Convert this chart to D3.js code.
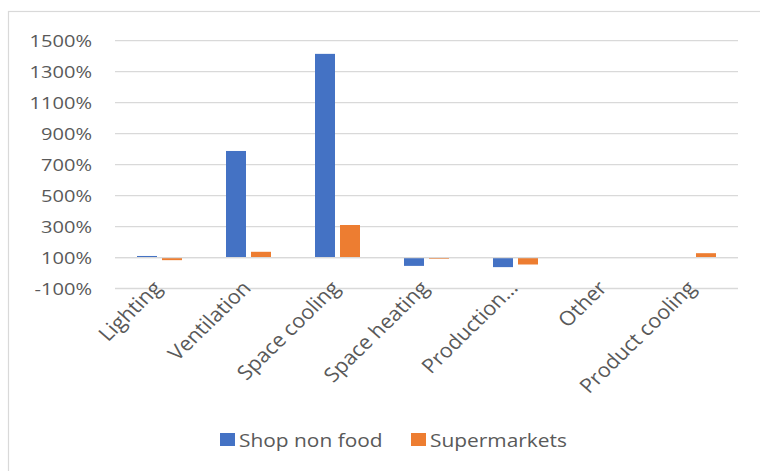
<!DOCTYPE html>
<html>
<head>
<meta charset="utf-8">
<script src="https://cdn.jsdelivr.net/npm/d3@7"></script>
<style>
  html, body { margin: 0; padding: 0; background: #ffffff; }
  svg { display: block; }
  text { font-family: "Open Sans", "Noto Sans", sans-serif; fill: #595959; }
</style>
</head>
<body>
<svg id="chart" width="760" height="471"></svg>
<script>
// Relative change in energy use by end use
const categories = ["Lighting", "Ventilation", "Space cooling", "Space heating", "Production…", "Other", "Product cooling"];
const seriesNames = ["Shop non food", "Supermarkets"];
const shopNonFood = [110, 788, 1415, 46, 38, null, null];
const supermarkets = [83, 137, 310, 92, 55, null, 128];
const yTicks = [-100, 100, 300, 500, 700, 900, 1100, 1300, 1500];
const colors = ["#4472C4", "#ED7D31"];

const stretch = 1.18;           // text is drawn slightly wide
const svg = d3.select("#chart");

// chart frame
svg.append("rect")
  .attr("x", 8.5).attr("y", 11.5)
  .attr("width", 800).attr("height", 500)
  .attr("fill", "#ffffff")
  .attr("stroke", "#d9d9d9").attr("stroke-width", 1.2);

const plot = { left: 115, right: 738 };
const y = d3.scaleLinear().domain([-100, 1500]).range([288.5, 40.7]);
const x = d3.scaleBand().domain(categories).range([plot.left, plot.right]).padding(0);
const xs = d3.scaleBand().domain(seriesNames).range([-22.5, 22.5]).paddingInner(0.2);
const base = 100;   // horizontal axis crosses at 100%

// gridlines
svg.append("g").selectAll("line").data(yTicks).join("line")
  .attr("x1", plot.left).attr("x2", plot.right)
  .attr("y1", d => y(d)).attr("y2", d => y(d))
  .attr("stroke", "#d9d9d9").attr("stroke-width", 1.3);

// y tick labels
svg.append("g").selectAll("text").data(yTicks).join("text")
  .attr("transform", d => `translate(92,${y(d)}) scale(${stretch},1)`)
  .attr("text-anchor", "end")
  .attr("dy", "0.36em")
  .style("font-size", "17px")
  .text(d => d + "%");

// bars
const series = [shopNonFood, supermarkets];
series.forEach((vals, si) => {
  svg.append("g").selectAll("rect")
    .data(categories.map((c, i) => ({ c, v: vals[i] })).filter(d => d.v !== null))
    .join("rect")
    .attr("x", d => x(d.c) + x.bandwidth() / 2 + xs(seriesNames[si]))
    .attr("width", xs.bandwidth())
    .attr("y", d => Math.min(y(d.v), y(base)))
    .attr("height", d => Math.abs(y(d.v) - y(base)))
    .attr("fill", colors[si]);
});

// baseline axis
svg.append("line")
  .attr("x1", plot.left).attr("x2", plot.right)
  .attr("y1", y(base)).attr("y2", y(base))
  .attr("stroke", "#d9d9d9").attr("stroke-width", 1.3);

// category labels, slanted
svg.append("g").selectAll("text").data(categories).join("text")
  .attr("transform", d => `translate(${x(d) + x.bandwidth() / 2 + 3.5},289) scale(1.08,1) rotate(-46.5)`)
  .attr("text-anchor", "end")
  .style("font-size", "20px")
  .text(d => d);

// legend
const legend = svg.append("g");
const legendItems = [{ name: seriesNames[0], x: 220 }, { name: seriesNames[1], x: 411 }];
legendItems.forEach((it, i) => {
  legend.append("rect")
    .attr("x", it.x).attr("y", 433)
    .attr("width", 15).attr("height", 13)
    .attr("fill", colors[i]);
  legend.append("text")
    .attr("transform", `translate(${it.x + 19},446.5) scale(1.1,1)`)
    .style("font-size", "19px")
    .text(it.name);
});
</script>
</body>
</html>
